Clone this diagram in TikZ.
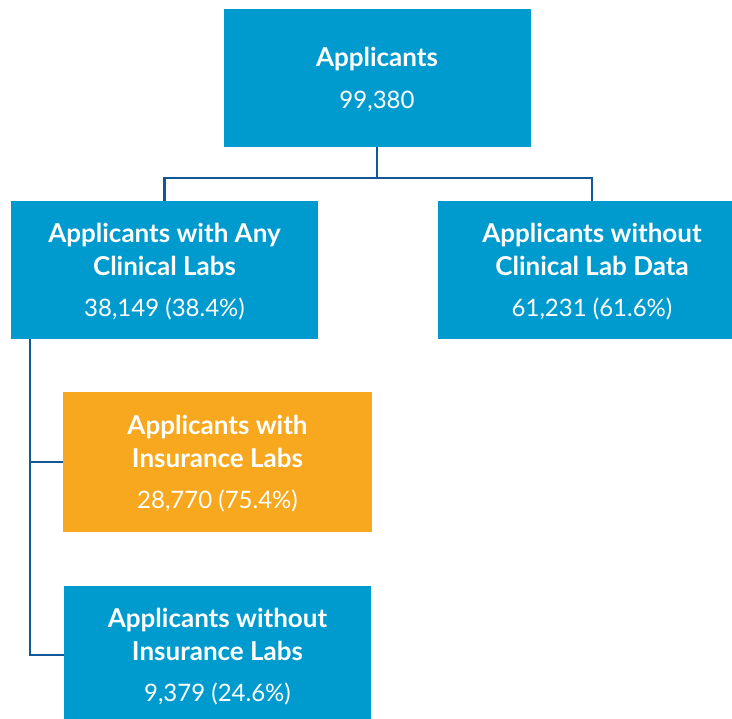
\documentclass[tikz,border=0pt]{standalone}
\usepackage{fontspec}
\setmainfont{Lato}
\usetikzlibrary{positioning}
\definecolor{boxblue}{RGB}{0,155,206}
\definecolor{boxorange}{RGB}{247,168,30}
\definecolor{linkblue}{RGB}{18,88,152}
\newcommand{\boxcount}[1]{{\fontsize{24}{33}\mdseries\selectfont #1}}

\begin{document}
\begin{tikzpicture}[x=1pt,y=-1pt,
    box/.style={fill=boxblue, text=white, align=center, inner sep=0pt,
      minimum width=307pt, minimum height=138pt, text depth=-9pt,
      font=\fontsize{26}{33}\bfseries\selectfont},
    link/.style={draw=linkblue, line width=2.8pt}]
    \useasboundingbox (0,0) rectangle (732,719);
    \clip (0,0) rectangle (732,719);
    % boxes
    \node[box] (all) at (377,78) {Applicants\\[9pt]\boxcount{99,380}};
    \node[box] (anyLabs) at (164.5,270) {Applicants with Any\\Clinical Labs\\[8pt]\boxcount{38,149 (38.4\%)}};
    \node[box, minimum width=308pt] (noLabs) at (592,270) {Applicants without\\Clinical Lab Data\\[8pt]\boxcount{61,231 (61.6\%)}};
    \node[box, fill=boxorange, minimum width=309pt, minimum height=140pt] (insLabs) at (217.5,462) {Applicants with\\Insurance Labs\\[8pt]\boxcount{28,770 (75.4\%)}};
    \node[box] (noIns) at (217.5,655) {Applicants without\\Insurance Labs\\[8pt]\boxcount{9,379 (24.6\%)}};
    % connectors
    \coordinate (split) at (377,178);
    \coordinate (trunk) at (30,339);
    \draw[link] (all.south) -- (split);
    \draw[link] (anyLabs.north) |- (split) -| (noLabs.north);
    \draw[link] (trunk) |- (noIns.west);
    \draw[link] (trunk |- insLabs.west) -- (insLabs.west);
\end{tikzpicture}
\end{document}
